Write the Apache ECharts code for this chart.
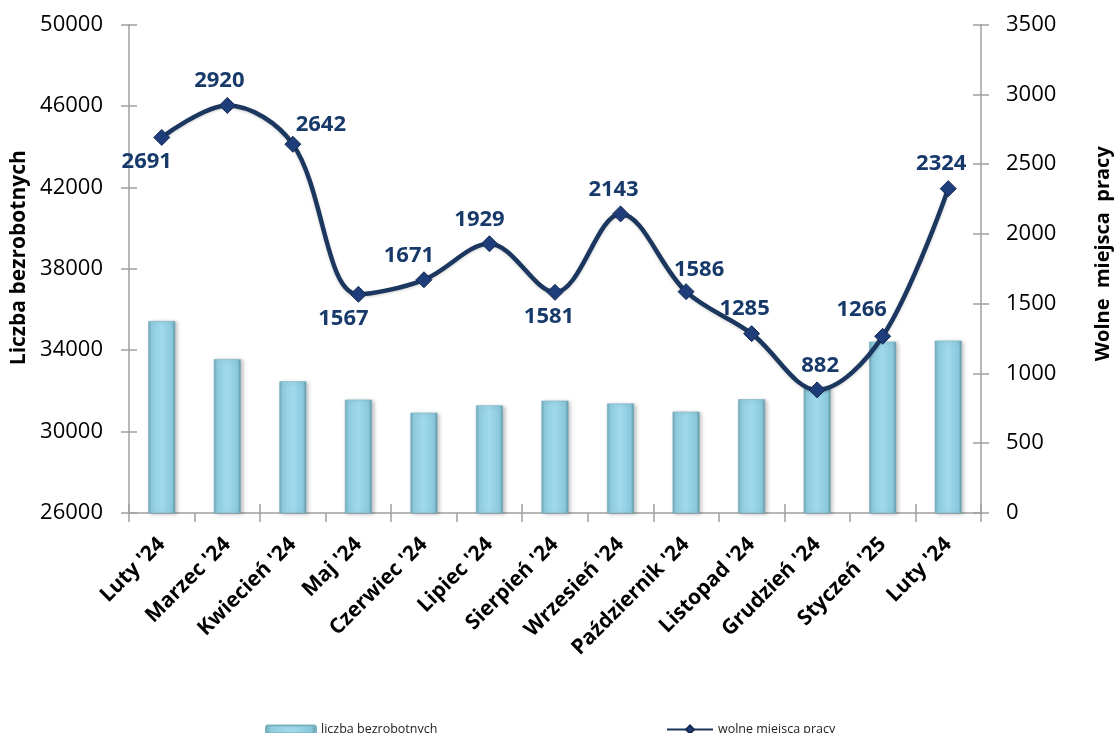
<!DOCTYPE html>
<html>
<head>
<meta charset="utf-8">
<script src="https://cdn.jsdelivr.net/npm/echarts@6/dist/echarts.min.js"></script>
<style>
html,body{margin:0;padding:0;background:#fff;}
#c{width:1116px;height:733px;}
</style>
</head>
<body>
<div id="c"></div>
<script>
var categories = ["Luty '24","Marzec '24","Kwiecień '24","Maj '24","Czerwiec '24","Lipiec '24","Sierpień '24","Wrzesień '24","Październik '24","Listopad '24","Grudzień '24","Styczeń '25","Luty '24"];
var unemployed = [35430, 33560, 32470, 31570, 30930, 31290, 31520, 31380, 30980, 31590, 32150, 34420, 34470];
var vacancies = [2691, 2920, 2642, 1567, 1671, 1929, 1581, 2143, 1586, 1285, 882, 1266, 2324];
var leftTicks = {min: 26000, max: 50000, interval: 4000};
var rightTicks = {min: 0, max: 3500, interval: 500};

// label placement per point (style only)
var labelPlace = [
  ['bottom', [-15, 0]], ['top', [-8, 0]], ['top', [28, 5]], ['bottom', [-15, 0]],
  ['top', [-15, 0]], ['top', [-10, 0]], ['bottom', [-6, 0]], ['top', [-7, 0]],
  ['top', [13, 3]], ['top', [-7, 0]], ['top', [3, 0]], ['top', [-21, -2]], ['top', [-7, 0]]
];

var lineData = vacancies.map(function (v, i) {
  return { value: v, label: { position: labelPlace[i][0], offset: labelPlace[i][1] } };
});

var font = 'Open Sans';
var axisGray = '#a0a0a0';
var plain = function (v) { return String(v); };

var chart = echarts.init(document.getElementById('c'));
chart.setOption({
  animation: false,
  textStyle: { fontFamily: font },
  grid: { left: 129, right: 135, top: 24.5, bottom: 220, containLabel: false, outerBoundsMode: 'none' },
  legend: [
    {
      data: ['liczba bezrobotnych'], left: 260, top: 718,
      itemWidth: 50, itemHeight: 8, itemGap: 4,
      textStyle: { fontSize: 12.5, color: '#222', fontFamily: font }
    },
    {
      data: ['wolne miejsca pracy'], left: 661, top: 718,
      itemWidth: 46, itemHeight: 10, itemGap: 4,
      textStyle: { fontSize: 12.5, color: '#222', fontFamily: font }
    }
  ],
  xAxis: [
    {
      type: 'category', data: categories, position: 'bottom',
      axisLine: { lineStyle: { color: axisGray, width: 1.5 } },
      axisTick: { show: true, length: 9, lineStyle: { color: axisGray, width: 1.5 } },
      axisLabel: { rotate: 45, interval: 0, fontSize: 21, fontWeight: 'bold', color: '#000', margin: 28, fontFamily: font }
    },
    {
      type: 'category', data: categories, position: 'bottom',
      axisLine: { show: false },
      axisTick: { show: true, inside: true, length: 9, lineStyle: { color: axisGray, width: 1.5 } },
      axisLabel: { show: false }
    }
  ],
  yAxis: [
    {
      type: 'value', position: 'left', min: leftTicks.min, max: leftTicks.max, interval: leftTicks.interval,
      name: 'Liczba bezrobotnych', nameLocation: 'middle', nameGap: 98, nameRotate: 90,
      nameTextStyle: { fontSize: 21, fontWeight: 'bold', color: '#000', fontFamily: font, padding: [0, 0, 0, 22] },
      axisLine: { show: true, lineStyle: { color: axisGray, width: 1.5 } },
      axisTick: { show: true, length: 8, lineStyle: { color: axisGray, width: 1.5 } },
      axisLabel: { fontSize: 22, color: '#000', margin: 26, fontFamily: font, formatter: plain },
      splitLine: { show: false }
    },
    {
      type: 'value', position: 'right', min: rightTicks.min, max: rightTicks.max, interval: rightTicks.interval,
      name: 'Wolne  miejsca  pracy', nameLocation: 'middle', nameGap: 112, nameRotate: 90,
      nameTextStyle: { fontSize: 20, fontWeight: 'bold', color: '#000', fontFamily: font, padding: [0, 0, 0, 30] },
      axisLine: { show: true, lineStyle: { color: axisGray, width: 1.5 } },
      axisTick: { show: true, length: 8, lineStyle: { color: axisGray, width: 1.5 } },
      axisLabel: { fontSize: 22, color: '#000', margin: 25, fontFamily: font, formatter: plain },
      splitLine: { show: false }
    },
    {
      type: 'value', position: 'left', min: leftTicks.min, max: leftTicks.max, interval: leftTicks.interval,
      axisLine: { show: false },
      axisTick: { show: true, inside: true, length: 8, lineStyle: { color: axisGray, width: 1.5 } },
      axisLabel: { show: false }, splitLine: { show: false }
    },
    {
      type: 'value', position: 'right', min: rightTicks.min, max: rightTicks.max, interval: rightTicks.interval,
      axisLine: { show: false },
      axisTick: { show: true, inside: true, length: 8, lineStyle: { color: axisGray, width: 1.5 } },
      axisLabel: { show: false }, splitLine: { show: false }
    }
  ],
  series: [
    {
      name: 'liczba bezrobotnych', type: 'bar', data: unemployed,
      xAxisIndex: 0, yAxisIndex: 0, barWidth: 27,
      itemStyle: {
        color: new echarts.graphic.LinearGradient(0, 0, 1, 0, [
          { offset: 0, color: '#6ea6b6' },
          { offset: 0.12, color: '#90cde0' },
          { offset: 0.5, color: '#a0d9eb' },
          { offset: 0.88, color: '#8ac8dc' },
          { offset: 1, color: '#5f94a4' }
        ]),
        borderColor: '#7ab0c0', borderWidth: 0.6,
        shadowColor: 'rgba(0,0,0,0.25)', shadowBlur: 4, shadowOffsetX: 2, shadowOffsetY: 1
      }
    },
    {
      name: 'wolne miejsca pracy', type: 'line', data: lineData,
      xAxisIndex: 0, yAxisIndex: 1, smooth: 0.35,
      symbol: 'diamond', symbolSize: 16,
      lineStyle: { color: '#1b365f', width: 4.5, shadowColor: 'rgba(0,0,0,0.2)', shadowBlur: 3, shadowOffsetY: 1 },
      itemStyle: { color: '#1f3d7a', borderColor: '#142a50', borderWidth: 1 },
      label: { show: true, fontSize: 22, fontWeight: 'bold', color: '#173a6a', fontFamily: font, distance: 5 },
      z: 5
    }
  ]
});
</script>
</body>
</html>
